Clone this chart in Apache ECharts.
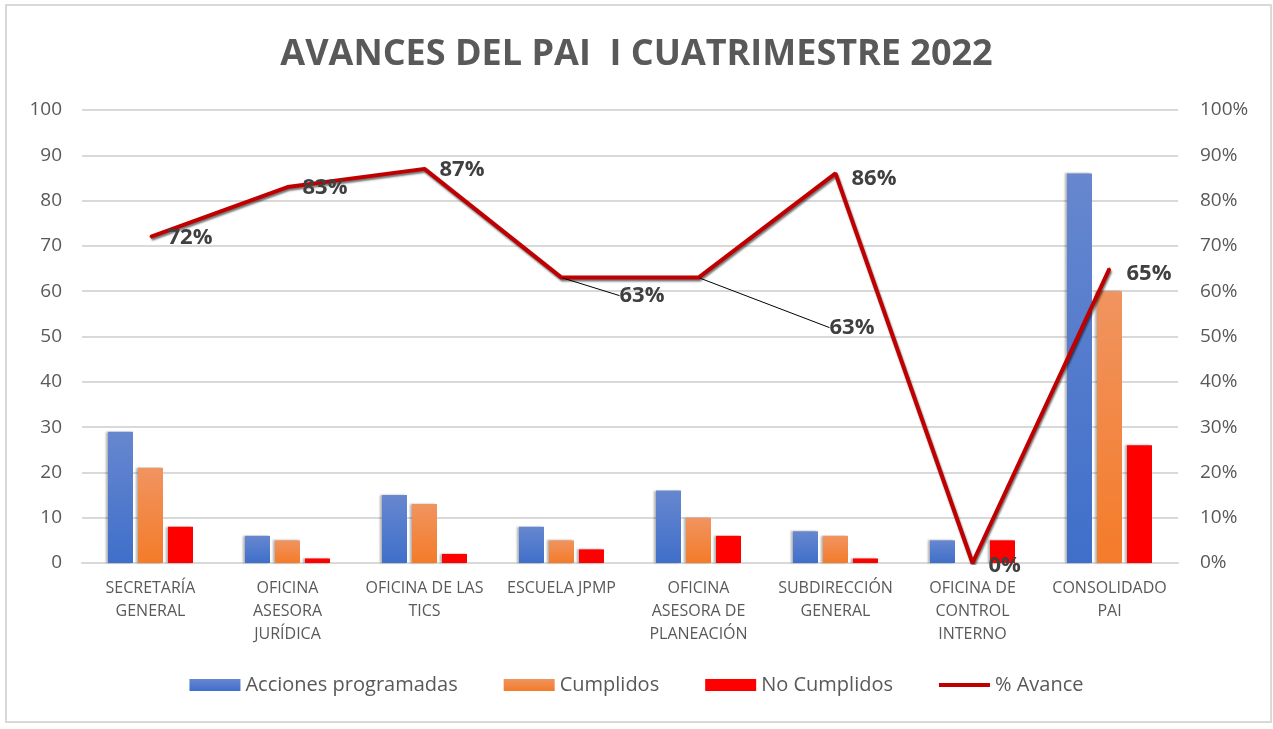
<!DOCTYPE html>
<html>
<head>
<meta charset="utf-8">
<title>Avances del PAI</title>
<script src="https://cdn.jsdelivr.net/npm/echarts@6/dist/echarts.min.js"></script>
<style>
    html, body { margin: 0; padding: 0; background: #fff; }
    #chart { width: 1273px; height: 729px; }
</style>
</head>
<body>
<div id="chart"></div>
<script>
// categorias y valores
const categorias = [
    'SECRETARÍA\nGENERAL',
    'OFICINA\nASESORA\nJURÍDICA',
    'OFICINA DE LAS\nTICS',
    'ESCUELA JPMP',
    'OFICINA\nASESORA DE\nPLANEACIÓN',
    'SUBDIRECCIÓN\nGENERAL',
    'OFICINA DE\nCONTROL\nINTERNO',
    'CONSOLIDADO\nPAI'
];
const acciones = [29, 6, 15, 8, 16, 7, 5, 86];
const cumplidos = [21, 5, 13, 5, 10, 6, 0, 60];
const noCumplidos = [8, 1, 2, 3, 6, 1, 5, 26];
const avance = [72, 83, 87, 63, 63, 86, 0, 65];

// desplazamiento de las etiquetas del % (solo estilo)
const labelDx = [16, 14, 14, 57, 130, 15, 15, 16];
const labelDy = [1, 1, 1, 18, 50, 5, 3, 5];
const conGuia = [3, 4];

const FONT = '"Open Sans", sans-serif';
const GRIS = '#595959';

const grad = (top, bottom) => new echarts.graphic.LinearGradient(0, 0, 0, 1, [
    { offset: 0, color: top },
    { offset: 1, color: bottom }
]);

const barShadow = {
    shadowColor: 'rgba(0,0,0,0.3)',
    shadowBlur: 2,
    shadowOffsetX: -2,
    shadowOffsetY: 0
};

const chart = echarts.init(document.getElementById('chart'));

const option = {
    backgroundColor: '#fff',
    animation: false,
    textStyle: { fontFamily: FONT },
    graphic: [{
        type: 'rect',
        shape: { x: 6, y: 5, width: 1265, height: 717 },
        style: { fill: 'none', stroke: '#d9d9d9', lineWidth: 2 },
        silent: true
    }],
    title: {
        text: 'AVANCES DEL PAI  I CUATRIMESTRE 2022',
        left: 'center',
        top: 32,
        textStyle: { fontFamily: FONT, fontSize: 36, fontWeight: 'bold', color: GRIS }
    },
    legend: {
        bottom: 29,
        left: 'center',
        itemWidth: 51,
        itemHeight: 12,
        itemGap: 46,
        textStyle: { fontFamily: FONT, fontSize: 20, color: GRIS },
        data: [
            { name: 'Acciones programadas', icon: 'rect' },
            { name: 'Cumplidos', icon: 'rect' },
            { name: 'No Cumplidos', icon: 'rect' },
            { name: '% Avance', icon: 'path://M0,0 L51,0 L51,4 L0,4 Z', itemStyle: { color: '#c00000' } }
        ]
    },
    grid: { left: 82, right: 95, top: 110, bottom: 166 },
    xAxis: {
        type: 'category',
        data: categorias,
        axisLine: { lineStyle: { color: '#d9d9d9', width: 2 } },
        axisTick: { show: false },
        axisLabel: {
            interval: 0,
            margin: 14,
            fontFamily: FONT,
            fontSize: 16,
            lineHeight: 23,
            color: GRIS
        }
    },
    yAxis: [
        {
            type: 'value',
            min: 0,
            max: 100,
            interval: 10,
            axisLine: { show: false },
            axisTick: { show: false },
            splitLine: { lineStyle: { color: '#d9d9d9', width: 2 } },
            axisLabel: { margin: 20, fontFamily: FONT, fontSize: 19, color: GRIS }
        },
        {
            type: 'value',
            min: 0,
            max: 100,
            interval: 10,
            axisLine: { show: false },
            axisTick: { show: false },
            splitLine: { show: false },
            axisLabel: { margin: 22, fontFamily: FONT, fontSize: 19, color: GRIS, formatter: '{value}%' }
        }
    ],
    series: [
        {
            name: 'Acciones programadas',
            type: 'bar',
            data: acciones,
            barWidth: 25,
            barGap: '20%',
            itemStyle: Object.assign({ color: grad('#6787cf', '#3f6fca') }, barShadow)
        },
        {
            name: 'Cumplidos',
            type: 'bar',
            data: cumplidos,
            barWidth: 25,
            barGap: '20%',
            itemStyle: Object.assign({ color: grad('#f09460', '#f47b29') }, barShadow)
        },
        {
            name: 'No Cumplidos',
            type: 'bar',
            data: noCumplidos,
            barWidth: 25,
            barGap: '20%',
            itemStyle: Object.assign({ color: '#ff0000' }, barShadow)
        },
        {
            name: '% Avance',
            type: 'line',
            yAxisIndex: 1,
            data: avance.map((v, i) => ({
                value: v,
                labelLine: { show: conGuia.indexOf(i) >= 0 }
            })),
            symbol: 'circle',
            symbolSize: 2,
            showSymbol: true,
            z: 5,
            lineStyle: {
                color: '#c00000',
                width: 4,
                shadowColor: 'rgba(0,0,0,0.55)',
                shadowBlur: 2,
                shadowOffsetX: 1,
                shadowOffsetY: 2
            },
            itemStyle: { color: '#c00000' },
            label: {
                show: true,
                position: 'right',
                distance: 0,
                formatter: '{c}%',
                fontFamily: FONT,
                fontSize: 22,
                fontWeight: 'bold',
                color: '#404040'
            },
            labelLine: {
                show: false,
                lineStyle: { color: '#000', width: 1 }
            },
            labelLayout: function (p) {
                return { dx: labelDx[p.dataIndex], dy: labelDy[p.dataIndex] };
            }
        }
    ]
};

chart.setOption(option);
</script>
</body>
</html>
